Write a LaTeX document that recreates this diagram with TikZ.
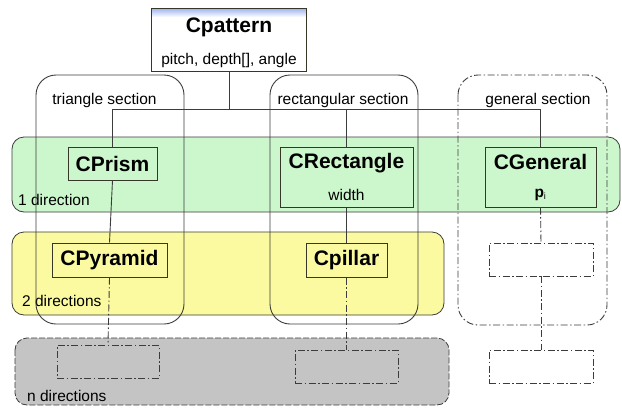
\documentclass[tikz,border=0pt]{standalone}
\usepackage{fontspec}
\setmainfont{Liberation Sans}
\definecolor{greenfill}{RGB}{204,246,204}
\definecolor{yellowfill}{RGB}{251,250,160}
\definecolor{grayfill}{RGB}{196,196,196}
\definecolor{linegray}{RGB}{60,60,60}
\definecolor{boxedge}{RGB}{55,55,40}
\definecolor{headblue}{RGB}{165,185,240}
\tikzset{
  wire/.style={draw=linegray, line width=0.9pt},
  dashdot/.style={dash pattern=on 7pt off 2.5pt on 1.5pt off 2.5pt},
  classbox/.style={draw=boxedge, line width=1pt, inner sep=0pt},
  emptybox/.style={draw=linegray, line width=0.9pt, dashdot, inner sep=0pt},
  titletext/.style={font=\fontsize{21}{24}\selectfont\bfseries, inner sep=0pt},
  smalltext/.style={font=\fontsize{15.5}{18}\selectfont, inner sep=0pt},
  section/.style={draw=linegray, line width=0.9pt, rounded corners=20pt},
  band/.style={draw=linegray, line width=0.8pt, rounded corners=12pt}
}
\begin{document}
\begin{tikzpicture}[x=1pt,y=-1pt]
\useasboundingbox (0,0) rectangle (622,408);
\fill[white] (0,0) rectangle (622,408);

% direction bands
\path[band, fill=greenfill] (12,137) rectangle (620,212);
\path[band, fill=yellowfill] (12,232) rectangle (444,315);
\path[band, fill=grayfill, dash pattern=on 6pt off 2pt] (15,338) rectangle (449,405);

\node[smalltext, anchor=west] (dir1) at (18,200) {1 direction};
\node[smalltext, anchor=west] (dir2) at (22,301) {2 directions};
\node[smalltext, anchor=west] (dirn) at (27,396) {n directions};

% section outlines
\draw[section] (36,75) rectangle (184,324);
\draw[section] (270,75) rectangle (418,324);
\draw[section, dashdot] (458,75) rectangle (607,325);

\node[smalltext] (sectri) at (104.5,100) {triangle section};
\node[smalltext] (secrect) at (343,100) {rectangular section};
\node[smalltext] (secgen) at (538,100) {general section};

% base class
\node[draw=none, minimum width=154pt, minimum height=62pt, inner sep=0pt, fill=white] (cpattern) at (229,40) {};
\shade[top color=headblue, bottom color=white] (152,9) rectangle (306,17);
\draw[boxedge, line width=1pt] (cpattern.north west) rectangle (cpattern.south east);
\node[titletext] (cpatternname) at (229,27) {Cpattern};
\node[smalltext] (cpatternattr) at (229,60) {pitch, depth[], angle};

% derived classes
\node[classbox, fill=greenfill, minimum width=89pt, minimum height=33pt] (cprism) at (112.5,163.5) {};
\node[titletext] (cprismname) at (cprism) {CPrism};

\node[classbox, fill=greenfill, minimum width=133pt, minimum height=60pt] (crect) at (346.5,177) {};
\node[titletext] (crectname) at (346.5,163) {CRectangle};
\node[smalltext] (crectattr) at (346.5,195) {width};

\node[classbox, fill=greenfill, minimum width=111pt, minimum height=60pt] (cgen) at (540.5,177) {};
\node[titletext] (cgenname) at (540.5,162) {CGeneral};
\node[smalltext] (cgenattr) at (540.5,195) {\textbf{p}\textsubscript{\fontsize{9}{10}\selectfont i}};

\node[classbox, fill=yellowfill, minimum width=115pt, minimum height=34pt] (cpyramid) at (109.5,260) {};
\node[titletext] (cpyramidname) at (cpyramid) {CPyramid};

\node[classbox, fill=yellowfill, minimum width=81pt, minimum height=34pt] (cpillar) at (346.5,260) {};
\node[titletext] (cpillarname) at (cpillar) {Cpillar};

% unnamed placeholder classes
\node[emptybox, minimum width=102pt, minimum height=33pt] (nbox1) at (108,361.5) {};
\node[emptybox, minimum width=103pt, minimum height=33pt] (nbox2) at (346.5,366.5) {};
\node[emptybox, minimum width=104pt, minimum height=33pt] (gbox1) at (541,259.5) {};
\node[emptybox, minimum width=104pt, minimum height=33pt] (gbox2) at (541,366.5) {};

% inheritance tree
\coordinate (bus) at (229,109);
\draw[wire] (cpattern.south) -- (bus);
\draw[wire] (bus) -| (cprism.north);
\draw[wire] (bus) -| (crect.north);
\draw[wire] (bus) -| (cgen.north);
\draw[wire] (cprism.south) -- (cpyramid.north);
\draw[wire] (crect.south) -- (cpillar.north);
\draw[wire, dashdot] (cpyramid.south) -- (nbox1.north);
\draw[wire, dashdot] (cpillar.south) -- (nbox2.north);
\draw[wire, dashdot] (cgen.south) -- (gbox1.north);
\draw[wire, dashdot] (gbox1.south) -- (gbox2.north);
\end{tikzpicture}
\end{document}
